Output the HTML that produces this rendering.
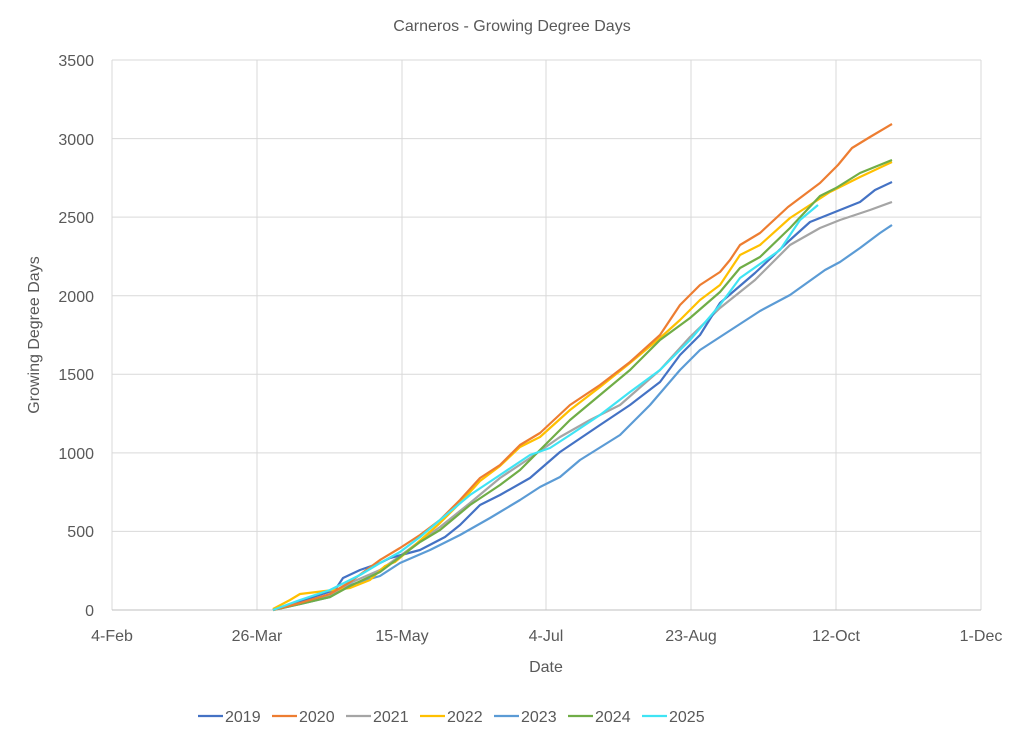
<!DOCTYPE html>
<html><head><style>body{margin:0;background:#fff}svg{display:block}text{font-family:"Liberation Sans",sans-serif;fill:#595959}</style></head><body>
<svg width="1024" height="743" viewBox="0 0 1024 743">
<text x="512" y="31" font-size="16" text-anchor="middle">Carneros - Growing Degree Days</text>
<g stroke="#d9d9d9" stroke-width="1">
<line x1="112" y1="531.4" x2="981" y2="531.4"/><line x1="112" y1="452.9" x2="981" y2="452.9"/><line x1="112" y1="374.3" x2="981" y2="374.3"/><line x1="112" y1="295.7" x2="981" y2="295.7"/><line x1="112" y1="217.1" x2="981" y2="217.1"/><line x1="112" y1="138.6" x2="981" y2="138.6"/><line x1="112" y1="60" x2="981" y2="60"/>
<line x1="112" y1="60" x2="112" y2="610"/><line x1="257" y1="60" x2="257" y2="610"/><line x1="402" y1="60" x2="402" y2="610"/><line x1="546" y1="60" x2="546" y2="610"/><line x1="691" y1="60" x2="691" y2="610"/><line x1="836" y1="60" x2="836" y2="610"/><line x1="981" y1="60" x2="981" y2="610"/>
</g>
<line x1="112" y1="610" x2="981" y2="610" stroke="#bfbfbf"/>
<g font-size="16" text-anchor="end">
<text x="94" y="616">0</text><text x="94" y="537">500</text><text x="94" y="459">1000</text><text x="94" y="380">1500</text><text x="94" y="302">2000</text><text x="94" y="223">2500</text><text x="94" y="145">3000</text><text x="94" y="66">3500</text></g>
<g font-size="16" text-anchor="middle">
<text x="112" y="641">4-Feb</text><text x="257" y="641">26-Mar</text><text x="402" y="641">15-May</text><text x="546" y="641">4-Jul</text><text x="691" y="641">23-Aug</text><text x="836" y="641">12-Oct</text><text x="981" y="641">1-Dec</text></g>
<text x="546" y="672" font-size="16" text-anchor="middle">Date</text>
<text transform="translate(39,335) rotate(-90)" font-size="16" text-anchor="middle">Growing Degree Days</text>
<g fill="none" stroke-width="2.2" stroke-linejoin="round">
<polyline stroke="#5B9BD5" points="273,610 300,604 330,597 350,585 380,576 400,563 430,550 460,535 490,518 520,500 540,487 560,477 580,460 620,435 650,405 680,370 700,350 720,337 760,311 790,295 825,270 840,262 860,248 880,233 892,225"/>
<polyline stroke="#A5A5A5" points="273,610 300,603 330,595 350,583 380,570 400,556 420,541 440,527 470,503 500,478 530,458 560,437 590,420 620,405 660,370 690,337 720,308 755,280 790,245 820,228 840,220 870,210 892,202"/>
<polyline stroke="#4472C4" points="273,610 310,598 335,590 343,578 360,570 380,563 390,558 420,550 445,537 460,525 480,505 500,495 530,478 560,452 600,425 630,405 660,382 680,355 700,335 720,303 755,273 790,240 810,222 840,210 860,202 875,190 892,182"/>
<polyline stroke="#FFC000" points="273,609 290,600 300,594 325,591 350,588 370,580 385,566 395,562 415,545 440,523 460,503 480,481 500,466 520,447 540,437 570,410 600,387 630,363 660,338 680,320 700,300 720,285 740,255 760,245 790,218 830,192 860,177 892,162"/>
<polyline stroke="#70AD47" points="273,610 300,604 330,597 350,586 380,572 400,557 420,542 440,530 470,505 500,485 520,470 540,450 570,420 600,395 630,370 660,340 690,318 720,292 740,268 760,257 790,228 820,196 836,188 860,173 892,160"/>
<polyline stroke="#ED7D31" points="273,610 300,603 330,594 350,582 380,560 400,548 420,535 440,520 460,500 480,478 500,465 520,445 540,433 570,405 600,385 630,362 660,335 680,305 700,285 720,272 730,260 740,245 760,233 788,207 820,183 838,165 852,148 870,137 892,124"/>
<polyline stroke="#3FE4F4" points="273,610 300,600 330,590 360,575 380,563 400,552 420,537 440,520 470,495 500,475 530,455 550,448 570,435 600,415 630,392 660,370 690,340 720,305 740,278 780,250 800,220 818,205"/>
</g>
<g stroke-width="2.2" font-size="16">
<line x1="198" y1="716" x2="223" y2="716" stroke="#4472C4"/><text x="225" y="722">2019</text>
<line x1="272" y1="716" x2="297" y2="716" stroke="#ED7D31"/><text x="299" y="722">2020</text>
<line x1="346" y1="716" x2="371" y2="716" stroke="#A5A5A5"/><text x="373" y="722">2021</text>
<line x1="420" y1="716" x2="445" y2="716" stroke="#FFC000"/><text x="447" y="722">2022</text>
<line x1="494" y1="716" x2="519" y2="716" stroke="#5B9BD5"/><text x="521" y="722">2023</text>
<line x1="568" y1="716" x2="593" y2="716" stroke="#70AD47"/><text x="595" y="722">2024</text>
<line x1="642" y1="716" x2="667" y2="716" stroke="#3FE4F4"/><text x="669" y="722">2025</text>
</g>
</svg>
</body></html>
